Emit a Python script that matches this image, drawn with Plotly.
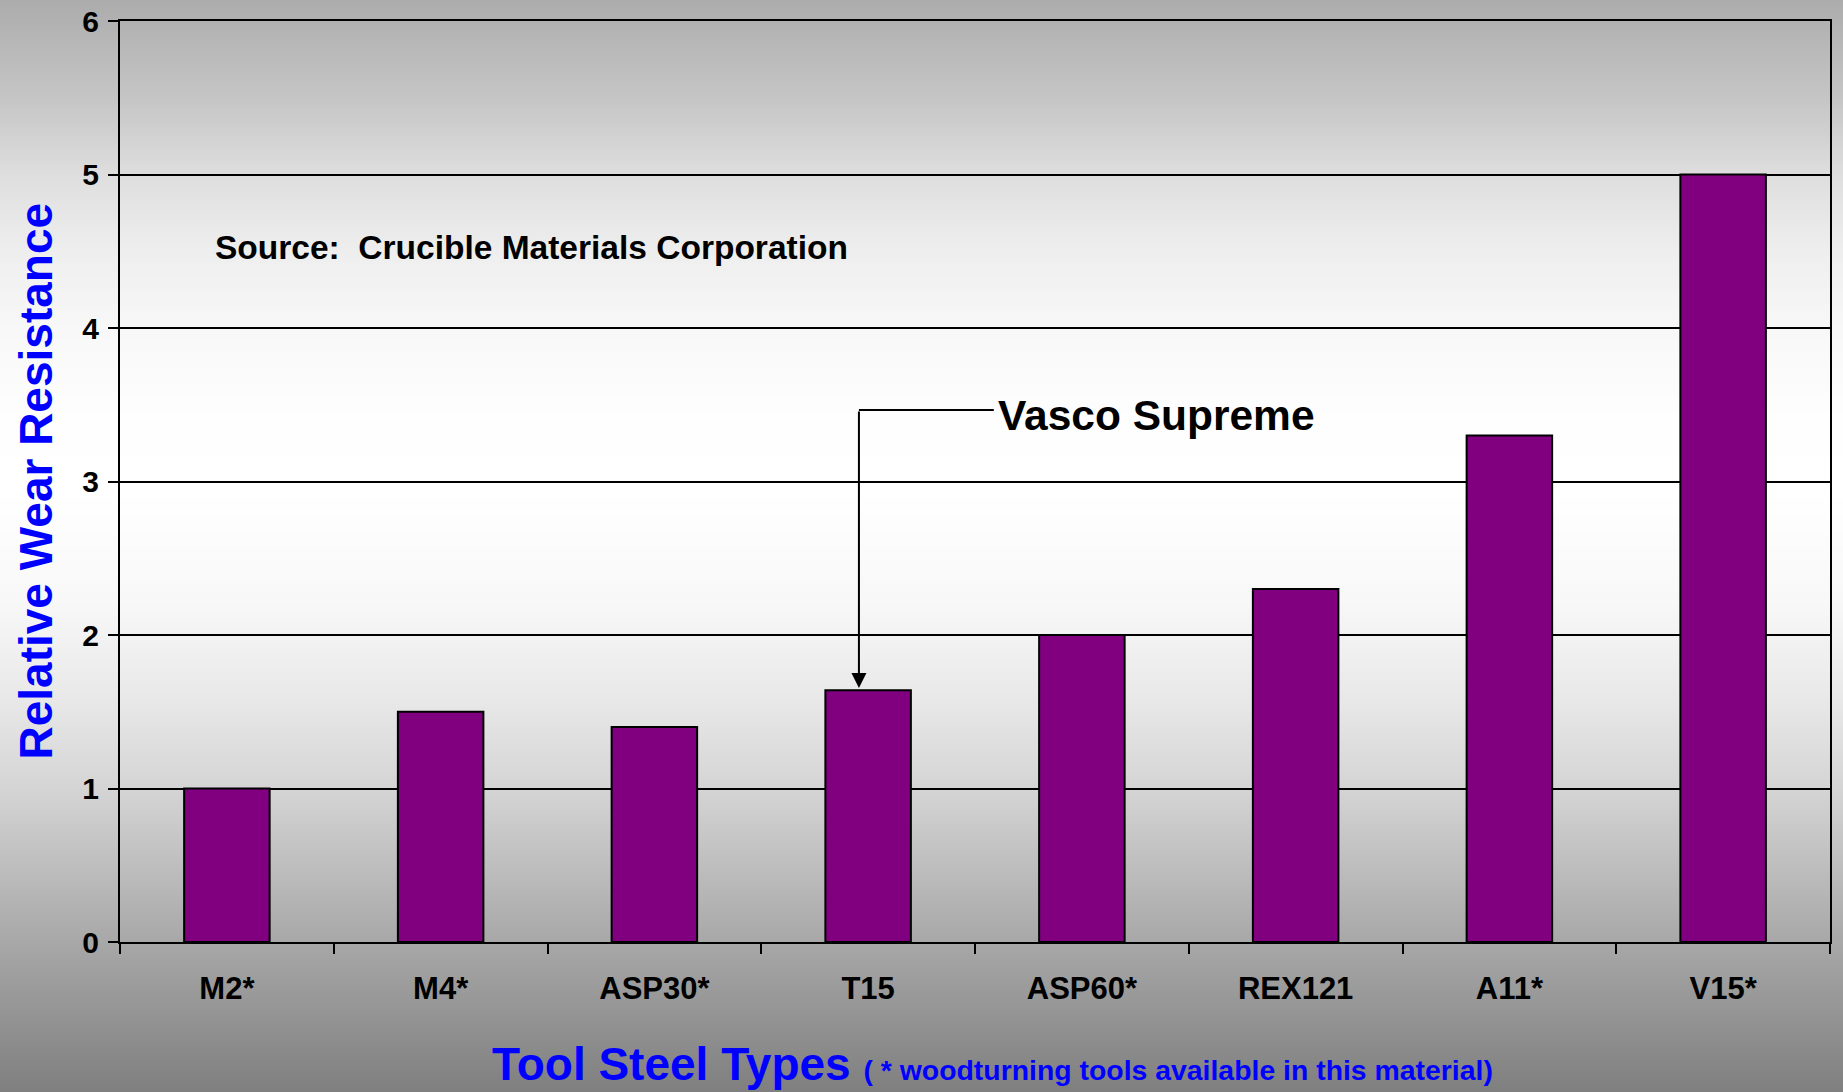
import zlib, struct, base64
import numpy as np
import plotly.graph_objects as go

# ---- data ----
categories = ["M2*", "M4*", "ASP30*", "T15", "ASP60*", "REX121", "A11*", "V15*"]
wear_resistance = [1.0, 1.5, 1.4, 1.64, 2.0, 2.3, 3.3, 5.0]
y_ticks = [0, 1, 2, 3, 4, 5, 6]
source_text = "Source:\u00a0 Crucible Materials Corporation"
callout_text = "Vasco Supreme"
callout_target = "T15"
y_title = "Relative Wear Resistance"
x_title = "Tool Steel Types"
x_subtitle = "( * woodturning tools available in this material)"

# ---- layout geometry ----
W, H = 1843, 1092
ML, MR, MT, MB = 120, 13, 21, 150
PW, PH = W - ML - MR, H - MT - MB
FONT = "Liberation Sans, Arial, Helvetica, sans-serif"

# ---- background gradient (vertical grey -> white -> grey) ----
stops_y = [0, 100, 174, 250, 330, 420, 490, 600, 700, 790, 944, 1092]
stops_v = [172, 198, 222, 238, 248, 254, 255, 248, 232, 212, 167, 127]
gw = 4
rows = np.interp(np.arange(H), stops_y, stops_v).round().astype(np.uint8)
raw = b"".join(b"\x00" + bytes([int(v)]) * gw for v in rows)


def _chunk(t, d):
    return struct.pack(">I", len(d)) + t + d + struct.pack(">I", zlib.crc32(t + d) & 0xFFFFFFFF)


png = (b"\x89PNG\r\n\x1a\n"
       + _chunk(b"IHDR", struct.pack(">IIBBBBB", gw, H, 8, 0, 0, 0, 0))
       + _chunk(b"IDAT", zlib.compress(raw))
       + _chunk(b"IEND", b""))
bg_src = "data:image/png;base64," + base64.b64encode(png).decode()

fig = go.Figure()
fig.add_trace(go.Bar(
    x=categories, y=wear_resistance,
    marker=dict(color="#800080", line=dict(color="black", width=2)),
    hoverinfo="x+y",
))

ti = categories.index(callout_target)
arrow_x = ti - 0.043
line_y = 3.466
tip_y = wear_resistance[ti] + 0.015

fig.add_shape(type="line", xref="x", yref="y",
              x0=arrow_x, x1=ti + 0.588, y0=line_y, y1=line_y,
              line=dict(color="black", width=2))

fig.add_annotation(x=arrow_x, y=tip_y, ax=arrow_x, ay=line_y, axref="x", ayref="y",
                   xref="x", yref="y", text="", showarrow=True,
                   arrowhead=2, arrowsize=1.5, arrowwidth=2, arrowcolor="black")

fig.add_annotation(x=ti + 0.600, y=3.43, xref="x", yref="y", text="<b>" + callout_text + "</b>",
                   showarrow=False, xanchor="left", yanchor="middle",
                   font=dict(family=FONT, size=42.5, color="black"))

fig.add_annotation(x=-0.064, y=4.527, xref="x", yref="y", text="<b>" + source_text + "</b>",
                   showarrow=False, xanchor="left", yanchor="middle",
                   font=dict(family=FONT, size=33.5, color="black"))

fig.add_annotation(x=(35 - ML) / PW, y=0.5, xref="paper", yref="paper",
                   text="<b>" + y_title + "</b>", textangle=-90, showarrow=False,
                   xanchor="center", yanchor="middle",
                   font=dict(family=FONT, size=46, color="#0000FF"))

fig.add_annotation(x=(490 - ML) / PW, y=(MT + PH - 1063.5) / PH, xref="paper", yref="paper",
                   text="<b>" + x_title + "</b> <span style='font-size:28.4px'><b>" + x_subtitle + "</b></span>",
                   showarrow=False, xanchor="left", yanchor="middle",
                   font=dict(family=FONT, size=46, color="#0000FF"))

fig.update_layout(
    width=W, height=H,
    margin=dict(l=ML, r=MR, t=MT, b=MB, pad=0, autoexpand=False),
    paper_bgcolor="#b0b0b0",
    plot_bgcolor="rgba(0,0,0,0)",
    showlegend=False,
    bargap=0.6,
    font=dict(family=FONT, color="black"),
    images=[dict(source=bg_src, xref="paper", yref="paper",
                 x=-ML / PW, y=1 + MT / PH, sizex=W / PW, sizey=H / PH,
                 sizing="stretch", xanchor="left", yanchor="top", layer="below")],
    xaxis=dict(
        type="category", automargin=False, showline=True, linecolor="black", linewidth=2, mirror=True,
        ticks="outside", tickson="boundaries", ticklen=10, tickwidth=2, tickcolor="black",
        showgrid=False, ticklabelstandoff=18,
        tickfont=dict(family=FONT, size=31, color="black", weight="bold"),
    ),
    yaxis=dict(
        range=[0, 6], tickvals=y_ticks, automargin=False, showline=True, linecolor="black", linewidth=2,
        mirror=True, ticks="outside", ticklen=10, tickwidth=2, tickcolor="black",
        showgrid=True, gridcolor="black", gridwidth=1.5, zeroline=False,
        ticklabelstandoff=3,
        tickfont=dict(family=FONT, size=30, color="black", weight="bold"),
    ),
)

fig.write_html("out.html")
